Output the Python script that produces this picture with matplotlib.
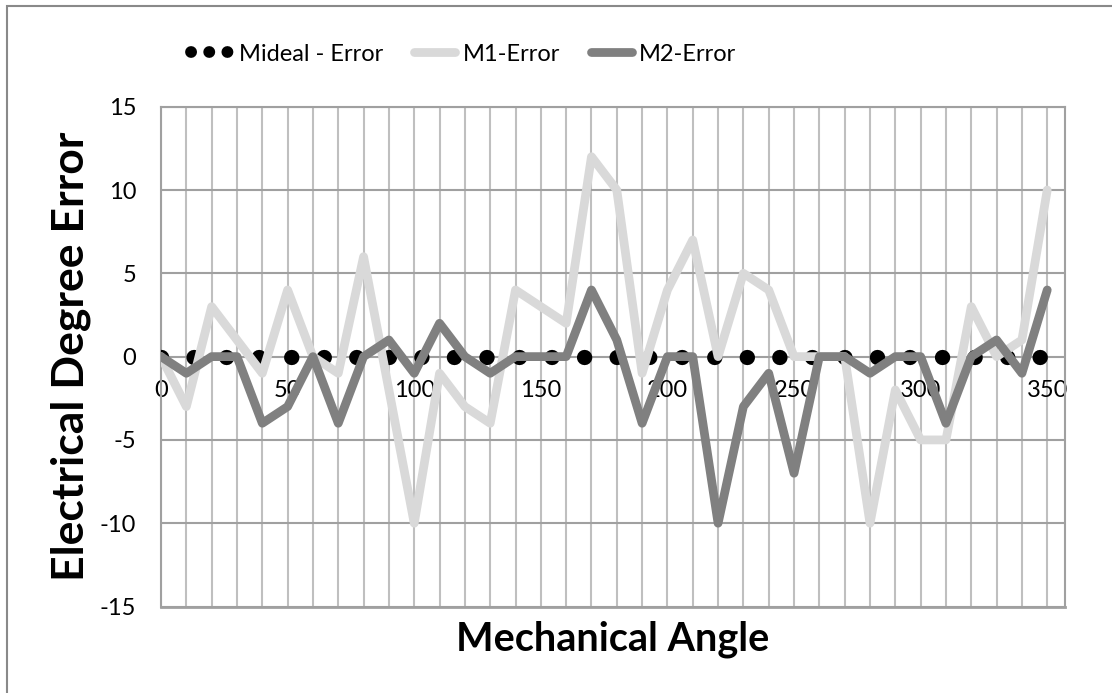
import numpy as np
import matplotlib.pyplot as plt
from matplotlib.lines import Line2D
from matplotlib.patches import Rectangle

# -- Data --
angle = np.arange(0, 360, 10)
m_ideal_err = [0] * len(angle)
m1_err = [0, -3, 3, 1, -1, 4, 0, -1, 6, -2, -10, -1, -3, -4, 4, 3, 2, 12,
          10, -1, 4, 7, 0, 5, 4, 0, 0, 0, -10, -2, -5, -5, 3, 0, 1, 10]
m2_err = [0, -1, 0, 0, -4, -3, 0, -4, 0, 1, -1, 2, 0, -1, 0, 0, 0, 4,
          1, -4, 0, 0, -10, -3, -1, -7, 0, 0, -1, 0, 0, -4, 0, 1, -1, 4]
series_names = ["Mideal - Error", "M1-Error", "M2-Error"]
y_ticks = [-15, -10, -5, 0, 5, 10, 15]
x_ticks = [0, 50, 100, 150, 200, 250, 300, 350]

plt.rcParams['font.family'] = ['Lato', 'DejaVu Sans']
plt.rcParams['axes.unicode_minus'] = False

fig = plt.figure(figsize=(11.12, 6.93), dpi=100)
ax = fig.add_axes([0.1448, 0.1248, 0.8129, 0.7212])

# -- Series --
ax.plot(angle, m_ideal_err, color='black', linewidth=11,
        linestyle=(0, (0.01, 2.12)), dash_capstyle='round', zorder=3)
ax.plot(angle, m1_err, color='#d9d9d9', linewidth=6.3,
        solid_joinstyle='round', solid_capstyle='round', zorder=4)
ax.plot(angle, m2_err, color='#808080', linewidth=6.3,
        solid_joinstyle='round', solid_capstyle='round', zorder=5)

# -- Axes --
ax.set_xlim(0, 357)
ax.set_ylim(-15, 15)
ax.set_yticks(y_ticks)
ax.set_xticks(x_ticks)
ax.set_xticks(np.arange(0, 360, 10), minor=True)
ax.grid(True, axis='y', color='#a0a0a0', linewidth=1.5, zorder=1)
ax.grid(True, axis='x', which='both', color='#bfbfbf', linewidth=1.5, zorder=1)
ax.set_axisbelow(True)

ax.spines['bottom'].set_position(('data', 0))
ax.spines['bottom'].set_visible(False)
for side in ['left', 'top', 'right']:
    ax.spines[side].set_color('#a0a0a0')
    ax.spines[side].set_linewidth(1.5)
# bottom edge of the plot box
ax.axhline(-15, color='#a0a0a0', linewidth=2, zorder=1, clip_on=False)

ax.tick_params(axis='both', which='both', length=0, labelsize=17)
ax.tick_params(axis='y', pad=18)
ax.tick_params(axis='x', pad=17)

ax.set_xlabel("Mechanical Angle", fontsize=28.5, fontweight='bold')
ax.xaxis.set_label_coords(0.5, -0.027)
ax.text(-0.0996, 0.5, "Electrical Degree Error", transform=ax.transAxes,
        rotation=90, ha='center', va='center', fontsize=32, fontweight='bold')

# -- Legend --
handles = [
    Line2D([], [], color='black', linewidth=8.5, linestyle=(0, (0.01, 1.53)),
           dash_capstyle='round'),
    Line2D([], [], color='#d9d9d9', linewidth=6.3, solid_capstyle='round'),
    Line2D([], [], color='#808080', linewidth=6.3, solid_capstyle='round'),
]
fig.legend(handles, series_names, ncol=3, loc='center left',
           bbox_to_anchor=(170 / 1112, 0.922), frameon=False,
           prop={'family': ['Liberation Sans Narrow', 'Lato'], 'size': 17},
           handlelength=1.74, handletextpad=0.3, columnspacing=1.3)

# chart area outline
fig.patches.append(Rectangle((7 / 1112, -0.05), 1.2, 1 - 6 / 693 + 0.05,
                             transform=fig.transFigure, fill=False,
                             edgecolor='#898989', linewidth=1.5))

fig.savefig("out.png", dpi=100)
